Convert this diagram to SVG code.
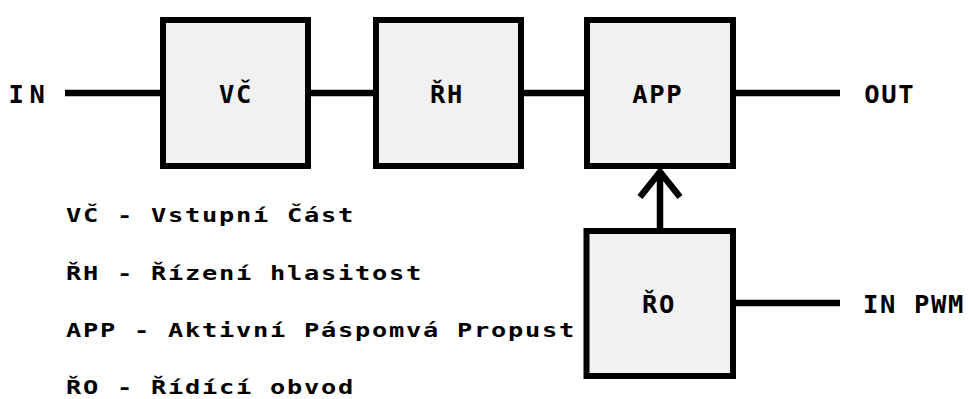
<svg xmlns="http://www.w3.org/2000/svg" width="969" height="399" viewBox="0 0 969 399">
<style>
.box{fill:#f1f1f1;stroke:#000;stroke-width:6}
.lbl{font-family:"DejaVu Sans Mono","Liberation Mono",monospace;font-weight:bold;font-size:25.5px;letter-spacing:1.65px;fill:#000}
.leg{font-family:"DejaVu Sans Mono","Liberation Mono",monospace;font-weight:bold;font-size:19.5px;letter-spacing:1.34px;fill:#000}
.wire{stroke:#000;stroke-width:6.5;fill:none}
</style>
<rect width="969" height="399" fill="#fff"/>
<g id="connectors">
<line class="wire" x1="65" y1="93" x2="161" y2="93"/>
<line class="wire" x1="310" y1="93" x2="374" y2="93"/>
<line class="wire" x1="523" y1="93" x2="585" y2="93"/>
<line class="wire" x1="735" y1="93" x2="840" y2="93"/>
<line class="wire" x1="735" y1="303" x2="840" y2="303"/>
<line class="wire" x1="660" y1="229" x2="660" y2="172"/>
<polyline class="wire" points="640,197 660,172 680,197"/>
</g>
<g id="in"><text class="lbl" x="8.6" y="102.5" style="letter-spacing:5.6px">IN</text></g>
<g id="vc"><rect class="box" x="163" y="20" width="145" height="146"/><text class="lbl" x="219" y="102.5">VČ</text></g>
<g id="rh"><rect class="box" x="376" y="20" width="145" height="146"/><text class="lbl" x="430" y="102.5">ŘH</text></g>
<g id="app"><rect class="box" x="587" y="20" width="146" height="146"/><text class="lbl" x="632.3" y="102.5">APP</text></g>
<g id="ro"><rect class="box" x="586.5" y="231" width="146.5" height="145"/><text class="lbl" x="642" y="313">ŘO</text></g>
<g id="out"><text class="lbl" x="864.3" y="102.5">OUT</text></g>
<g id="inpwm"><text class="lbl" x="863" y="313">IN PWM</text></g>
<g id="legend">
<text class="leg" transform="translate(66,222) scale(1.3,1)">VČ - Vstupní Část</text>
<text class="leg" transform="translate(66,279.5) scale(1.3,1)">ŘH - Řízení hlasitost</text>
<text class="leg" transform="translate(66,337) scale(1.3,1)">APP - Aktivní Páspomvá Propust</text>
<text class="leg" transform="translate(66,393.5) scale(1.3,1)">ŘO - Řídící obvod</text>
</g>
</svg>
